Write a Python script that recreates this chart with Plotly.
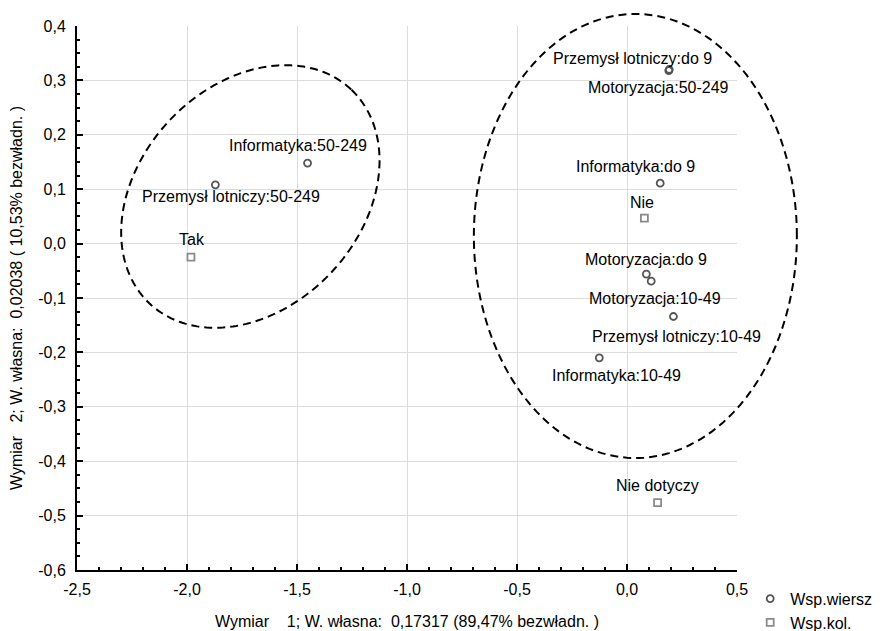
import numpy as np
import plotly.graph_objects as go

# Correspondence analysis: row coordinates (Wsp.wiersz)
row_labels = [
    "Przemysł lotniczy:50-249", "Informatyka:50-249", "Przemysł lotniczy:do 9",
    "Motoryzacja:50-249", "Informatyka:do 9", "Motoryzacja:do 9",
    "Motoryzacja:10-49", "Przemysł lotniczy:10-49", "Informatyka:10-49",
]
row_dim1 = [-1.871, -1.452, 0.192, 0.190, 0.151, 0.088, 0.110, 0.211, -0.126]
row_dim2 = [0.108, 0.148, 0.320, 0.318, 0.111, -0.056, -0.069, -0.134, -0.210]

# Column coordinates (Wsp.kol.)
col_labels = ["Tak", "Nie", "Nie dotyczy"]
col_dim1 = [-1.982, 0.079, 0.139]
col_dim2 = [-0.025, 0.047, -0.476]

# Axis ticks
x_tickvals = [-2.5, -2.0, -1.5, -1.0, -0.5, 0.0, 0.5]
x_ticktext = ["-2,5", "-2,0", "-1,5", "-1,0", "-0,5", "0,0", "0,5"]
y_tickvals = [-0.6, -0.5, -0.4, -0.3, -0.2, -0.1, 0.0, 0.1, 0.2, 0.3, 0.4]
y_ticktext = ["-0,6", "-0,5", "-0,4", "-0,3", "-0,2", "-0,1", "0,0", "0,1", "0,2", "0,3", "0,4"]

x_title = "Wymiar\u00a0\u00a0\u00a0\u00a01; W. własna:\u00a0\u00a00,17317 (89,47% bezwładn. )"
y_title = "Wymiar\u00a0\u00a0\u00a02; W. własna:\u00a0\u00a00,02038 (\u00a010,53% bezwładn. )"

# Label placement (pixel shifts from each point: right, up)
row_label_shift = [(16, -12), (-10, 18), (-37, 11), (-10, -17), (-25, 17),
                   (0, 15), (4, -17), (3, -20), (17, -18)]
col_label_shift = [(1, 18), (-2, 16), (0, 17)]

# Layout geometry
W, H = 883, 631
M_L, M_R, M_T, M_B = 77, 146, 26, 61
PLOT_W = W - M_L - M_R
PLOT_H = H - M_T - M_B
x_range = [-2.5, 0.5]
y_range = [-0.6, 0.4]

FONT = "Liberation Sans, Arial, sans-serif"
ROW_COLOR = "#555555"
COL_COLOR = "#8a8a8a"
GRID = "#dcdcdc"

# Group outlines: centre (data units), semi-axes (px), rotation (deg)
groups = [
    dict(cx=-1.712, cy=0.0866, a=147, b=111, angle=46.7),
    dict(cx=0.038, cy=0.014, a=161.5, b=222, angle=0.0),
]


def ellipse_path(cx, cy, a, b, angle, n=240):
    t = np.linspace(0, 2 * np.pi, n, endpoint=False)
    phi = np.radians(angle)
    dx = a * np.cos(phi) * np.cos(t) - b * np.sin(phi) * np.sin(t)
    dy = a * np.sin(phi) * np.cos(t) + b * np.cos(phi) * np.sin(t)
    px = (cx - x_range[0]) / (x_range[1] - x_range[0]) + dx / PLOT_W
    py = (cy - y_range[0]) / (y_range[1] - y_range[0]) + dy / PLOT_H
    pts = [f"{u:.5f},{v:.5f}" for u, v in zip(px, py)]
    return "M" + " L".join(pts) + " Z"


fig = go.Figure()

fig.add_trace(go.Scatter(
    x=row_dim1, y=row_dim2, mode="markers", name="Wsp.wiersz",
    marker=dict(symbol="circle-open", size=7, color=ROW_COLOR,
                line=dict(width=1.8, color=ROW_COLOR)),
    cliponaxis=False,
))
fig.add_trace(go.Scatter(
    x=col_dim1, y=col_dim2, mode="markers", name="Wsp.kol.",
    marker=dict(symbol="square-open", size=7, color=COL_COLOR,
                line=dict(width=1.8, color=COL_COLOR)),
    cliponaxis=False,
))
# carrier for the interior grid axes
fig.add_trace(go.Scatter(x=[], y=[], xaxis="x2", yaxis="y2",
                         showlegend=False, hoverinfo="skip"))

annotations = []
for lab, x, y, (sx, sy) in zip(row_labels, row_dim1, row_dim2, row_label_shift):
    annotations.append(dict(x=x, y=y, xref="x", yref="y", text=lab, showarrow=False,
                            xshift=sx, yshift=sy, xanchor="center", yanchor="middle",
                            font=dict(size=16, color="black", family=FONT)))
for lab, x, y, (sx, sy) in zip(col_labels, col_dim1, col_dim2, col_label_shift):
    annotations.append(dict(x=x, y=y, xref="x", yref="y", text=lab, showarrow=False,
                            xshift=sx, yshift=sy, xanchor="center", yanchor="middle",
                            font=dict(size=16, color="black", family=FONT)))

shapes = [
    dict(type="path", xref="paper", yref="paper", path=ellipse_path(**g),
         line=dict(color="black", width=2, dash="8px,5px"), layer="above")
    for g in groups
]

axis_common = dict(
    showline=True, linecolor="black", linewidth=2,
    ticks="inside", ticklen=6, tickwidth=2, tickcolor="black",
    showgrid=False, zeroline=False,
    tickfont=dict(size=16, color="black", family=FONT),
)

fig.update_layout(
    width=W, height=H,
    margin=dict(l=M_L, r=M_R, t=M_T, b=M_B, autoexpand=False),
    paper_bgcolor="white", plot_bgcolor="white",
    font=dict(family=FONT, size=16, color="black"),
    xaxis=dict(range=x_range, tickmode="array", tickvals=x_tickvals, ticktext=x_ticktext,
               minor=dict(ticks="inside", dtick=0.1, tick0=0, ticklen=3, tickwidth=1.5,
                          tickcolor="black", showgrid=False),
               title=dict(text=x_title, standoff=19, font=dict(size=16, family=FONT)),
               ticklabelstandoff=4,
               **axis_common),
    yaxis=dict(range=y_range, tickmode="array", tickvals=y_tickvals, ticktext=y_ticktext,
               minor=dict(ticks="inside", dtick=0.025, tick0=0, ticklen=3, tickwidth=1.5,
                          tickcolor="black", showgrid=False),
               title=dict(text=y_title, standoff=12, font=dict(size=16, family=FONT)),
               ticklabelstandoff=6,
               **axis_common),
    xaxis2=dict(range=x_range, overlaying="x", showline=False, ticks="",
                showticklabels=False, showgrid=True, gridcolor=GRID, gridwidth=1,
                zeroline=False, tickmode="array", tickvals=x_tickvals[1:-1]),
    yaxis2=dict(range=y_range, overlaying="y", showline=False, ticks="",
                showticklabels=False, showgrid=True, gridcolor=GRID, gridwidth=1,
                zeroline=False, tickmode="array", tickvals=y_tickvals[1:-1]),
    legend=dict(x=1.02, y=-0.0215, xanchor="left", yanchor="top",
                font=dict(size=16, family=FONT), bgcolor="rgba(0,0,0,0)",
                tracegroupgap=0, itemwidth=30),
    annotations=annotations,
    shapes=shapes,
    showlegend=True,
)

fig.write_html("out.html")
